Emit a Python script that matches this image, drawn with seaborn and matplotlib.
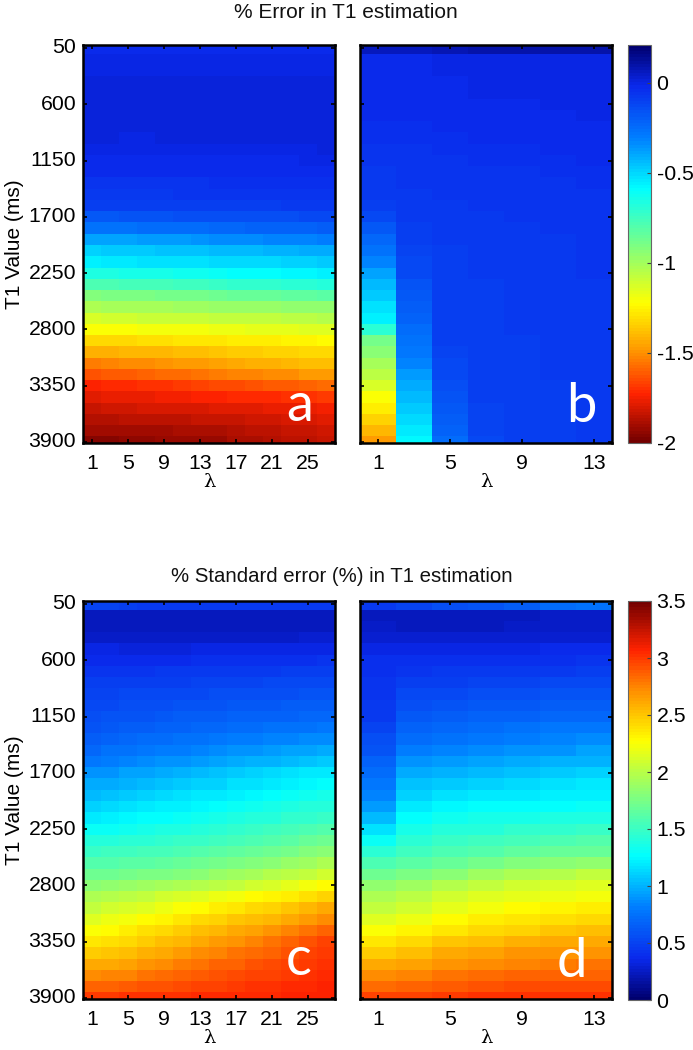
import numpy as np
import pandas as pd
import matplotlib
matplotlib.use('Agg')
import matplotlib.pyplot as plt
from matplotlib.colors import LinearSegmentedColormap
import seaborn as sns

plt.rcParams['font.family'] = ['Liberation Sans', 'DejaVu Sans']

t1_vals = [50, 160, 270, 380, 490, 600, 710, 820, 930, 1040, 1150, 1260, 1370, 1480, 1590, 1700, 1810, 1920,
           2030, 2140, 2250, 2360, 2470, 2580, 2690, 2800, 2910, 3020, 3130, 3240, 3350, 3460, 3570, 3680, 3790, 3900]
lam_long = [1, 3, 5, 7, 9, 11, 13, 15, 17, 19, 21, 23, 25, 27]
lam_short = [1, 3, 5, 7, 9, 11, 13]

err_a = [
 [-.03,-.03,-.03,-.03,-.03,-.03,-.03,-.03,-.03,-.03,-.02,-.02,-.02,-.02],
 [-.01,-.01,-.01,-.01,-.01,-.01,-.01,-.01,-.01,-.01,-.01,.0,.0,.0],
 [.0,.0,.0,.0,.0,.0,.0,.0,.0,.0,.0,.0,.0,.0],
 [.01,.01,.01,.01,.01,.01,.01,.01,.01,.01,.01,.01,.01,.01],
 [.02,.02,.02,.02,.02,.02,.02,.02,.02,.02,.02,.02,.02,.02],
 [.02,.02,.02,.02,.02,.02,.02,.02,.02,.02,.02,.02,.02,.02],
 [.02,.02,.02,.02,.02,.02,.02,.02,.02,.02,.02,.02,.02,.02],
 [.01,.01,.01,.01,.01,.01,.01,.01,.01,.01,.01,.01,.01,.01],
 [.01,.01,.0,.0,.01,.01,.01,.01,.01,.01,.01,.01,.01,.01],
 [.0,.0,-.01,-.01,-.01,.0,.0,.0,.0,.0,.0,.0,.0,.01],
 [-.02,-.02,-.02,-.02,-.02,-.02,-.02,-.02,-.02,-.02,-.02,-.02,-.01,-.01],
 [-.03,-.03,-.03,-.03,-.03,-.03,-.03,-.03,-.03,-.03,-.03,-.03,-.03,-.03],
 [-.05,-.05,-.05,-.05,-.05,-.05,-.05,-.04,-.04,-.04,-.04,-.04,-.04,-.04],
 [-.07,-.07,-.07,-.07,-.07,-.06,-.06,-.06,-.06,-.06,-.06,-.06,-.06,-.05],
 [-.10,-.10,-.10,-.10,-.10,-.09,-.09,-.09,-.09,-.09,-.09,-.08,-.08,-.08],
 [-.17,-.17,-.16,-.16,-.16,-.15,-.15,-.15,-.15,-.14,-.14,-.14,-.13,-.13],
 [-.27,-.26,-.26,-.25,-.25,-.24,-.24,-.23,-.23,-.22,-.22,-.21,-.21,-.20],
 [-.39,-.38,-.38,-.37,-.36,-.36,-.35,-.34,-.34,-.33,-.32,-.32,-.31,-.30],
 [-.49,-.48,-.48,-.47,-.46,-.46,-.45,-.44,-.44,-.43,-.42,-.42,-.41,-.40],
 [-.55,-.54,-.54,-.53,-.53,-.52,-.52,-.51,-.51,-.50,-.50,-.49,-.49,-.48],
 [-.67,-.66,-.65,-.65,-.64,-.63,-.62,-.61,-.60,-.60,-.59,-.58,-.57,-.56],
 [-.79,-.78,-.77,-.76,-.76,-.75,-.74,-.73,-.72,-.72,-.71,-.70,-.69,-.68],
 [-.92,-.91,-.90,-.90,-.89,-.88,-.88,-.87,-.86,-.85,-.85,-.84,-.83,-.82],
 [-1.02,-1.01,-1.01,-1.00,-1.00,-.99,-.99,-.98,-.98,-.97,-.97,-.96,-.96,-.95],
 [-1.12,-1.11,-1.11,-1.10,-1.10,-1.09,-1.09,-1.08,-1.08,-1.07,-1.07,-1.06,-1.06,-1.05],
 [-1.22,-1.21,-1.21,-1.20,-1.20,-1.19,-1.19,-1.18,-1.18,-1.17,-1.16,-1.16,-1.15,-1.14],
 [-1.32,-1.31,-1.31,-1.30,-1.30,-1.29,-1.28,-1.28,-1.27,-1.27,-1.26,-1.25,-1.25,-1.24],
 [-1.43,-1.42,-1.41,-1.40,-1.40,-1.39,-1.38,-1.37,-1.36,-1.35,-1.34,-1.33,-1.32,-1.31],
 [-1.54,-1.53,-1.51,-1.50,-1.49,-1.48,-1.47,-1.45,-1.44,-1.43,-1.42,-1.41,-1.39,-1.38],
 [-1.63,-1.62,-1.61,-1.59,-1.58,-1.57,-1.56,-1.55,-1.53,-1.52,-1.51,-1.50,-1.48,-1.47],
 [-1.73,-1.72,-1.71,-1.70,-1.69,-1.68,-1.67,-1.65,-1.64,-1.63,-1.62,-1.61,-1.59,-1.58],
 [-1.78,-1.77,-1.77,-1.76,-1.75,-1.75,-1.74,-1.73,-1.72,-1.72,-1.71,-1.70,-1.69,-1.68],
 [-1.83,-1.82,-1.82,-1.81,-1.81,-1.80,-1.80,-1.79,-1.78,-1.78,-1.77,-1.77,-1.76,-1.75],
 [-1.87,-1.87,-1.86,-1.86,-1.85,-1.85,-1.84,-1.84,-1.83,-1.82,-1.82,-1.81,-1.80,-1.79],
 [-1.91,-1.91,-1.90,-1.90,-1.90,-1.89,-1.89,-1.88,-1.87,-1.86,-1.85,-1.84,-1.83,-1.82],
 [-1.95,-1.95,-1.94,-1.94,-1.93,-1.93,-1.92,-1.92,-1.89,-1.88,-1.87,-1.86,-1.85,-1.84],
]

err_b = [
 [.06,.07,.08,.09,.10,.10,.10],
 [-.03,-.02,-.01,.0,.0,.0,.0],
 [-.03,-.02,-.01,-.01,.0,.0,.0],
 [-.03,-.03,-.02,-.01,-.01,.0,.0],
 [-.03,-.03,-.02,-.01,-.01,-.01,.0],
 [-.03,-.03,-.03,-.02,-.02,-.01,-.01],
 [-.03,-.03,-.03,-.03,-.02,-.02,-.01],
 [-.04,-.04,-.03,-.03,-.03,-.02,-.02],
 [-.04,-.04,-.04,-.03,-.03,-.03,-.03],
 [-.05,-.05,-.04,-.04,-.04,-.03,-.03],
 [-.06,-.05,-.05,-.04,-.04,-.04,-.03],
 [-.07,-.06,-.05,-.05,-.05,-.04,-.04],
 [-.08,-.06,-.06,-.05,-.05,-.05,-.04],
 [-.08,-.07,-.06,-.06,-.05,-.05,-.05],
 [-.10,-.07,-.07,-.06,-.06,-.05,-.05],
 [-.12,-.08,-.07,-.07,-.06,-.06,-.05],
 [-.17,-.09,-.08,-.07,-.07,-.06,-.06],
 [-.23,-.10,-.08,-.08,-.07,-.07,-.06],
 [-.27,-.11,-.09,-.08,-.07,-.07,-.06],
 [-.32,-.12,-.09,-.08,-.08,-.07,-.06],
 [-.39,-.13,-.09,-.08,-.08,-.07,-.06],
 [-.44,-.16,-.09,-.09,-.08,-.07,-.07],
 [-.48,-.18,-.09,-.09,-.08,-.08,-.07],
 [-.52,-.20,-.10,-.09,-.08,-.08,-.07],
 [-.56,-.22,-.10,-.09,-.08,-.08,-.07],
 [-.70,-.24,-.10,-.09,-.08,-.08,-.07],
 [-.88,-.27,-.10,-.09,-.09,-.08,-.07],
 [-.94,-.29,-.11,-.09,-.09,-.08,-.07],
 [-1.00,-.32,-.12,-.10,-.09,-.08,-.08],
 [-1.06,-.36,-.13,-.10,-.09,-.08,-.08],
 [-1.12,-.40,-.14,-.10,-.09,-.09,-.08],
 [-1.22,-.44,-.16,-.10,-.09,-.09,-.08],
 [-1.26,-.48,-.18,-.11,-.10,-.09,-.08],
 [-1.33,-.51,-.20,-.11,-.10,-.09,-.08],
 [-1.40,-.54,-.22,-.11,-.10,-.09,-.08],
 [-1.47,-.57,-.24,-.12,-.10,-.09,-.08],
]

std_c = [
 [.50,.50,.48,.46,.46,.46,.46,.46,.46,.46,.46,.46,.46,.46],
 [.22,.22,.22,.22,.22,.22,.22,.22,.22,.22,.22,.22,.22,.22],
 [.22,.22,.23,.23,.23,.23,.23,.23,.23,.23,.23,.23,.23,.24],
 [.27,.27,.26,.26,.26,.26,.26,.26,.26,.27,.27,.27,.28,.28],
 [.33,.33,.32,.32,.32,.32,.33,.33,.33,.33,.34,.34,.35,.35],
 [.38,.38,.38,.38,.38,.38,.39,.39,.39,.40,.40,.41,.41,.42],
 [.43,.43,.43,.43,.44,.44,.45,.45,.45,.46,.46,.47,.47,.48],
 [.47,.47,.48,.48,.49,.49,.50,.50,.51,.51,.52,.52,.53,.53],
 [.50,.51,.52,.52,.53,.54,.54,.55,.56,.56,.57,.57,.58,.59],
 [.53,.54,.55,.56,.57,.58,.59,.60,.61,.62,.62,.63,.64,.65],
 [.56,.58,.59,.60,.62,.63,.64,.65,.66,.67,.68,.68,.69,.70],
 [.60,.62,.64,.65,.67,.68,.69,.70,.72,.73,.74,.75,.76,.78],
 [.65,.68,.70,.72,.73,.75,.76,.78,.80,.81,.83,.84,.85,.87],
 [.71,.74,.76,.78,.80,.82,.84,.86,.88,.90,.92,.93,.95,.97],
 [.78,.81,.83,.85,.88,.90,.92,.94,.97,.99,1.01,1.03,1.05,1.08],
 [.88,.90,.93,.95,.98,1.00,1.03,1.05,1.08,1.10,1.13,1.15,1.18,1.20],
 [.96,.98,1.01,1.03,1.06,1.08,1.11,1.12,1.15,1.17,1.20,1.22,1.25,1.27],
 [1.03,1.06,1.09,1.11,1.14,1.16,1.18,1.20,1.23,1.25,1.27,1.29,1.32,1.35],
 [1.12,1.14,1.16,1.18,1.21,1.23,1.25,1.27,1.30,1.32,1.34,1.37,1.40,1.42],
 [1.20,1.22,1.24,1.26,1.28,1.30,1.32,1.35,1.37,1.40,1.42,1.45,1.47,1.50],
 [1.30,1.31,1.33,1.35,1.37,1.39,1.41,1.44,1.46,1.49,1.52,1.54,1.57,1.60],
 [1.40,1.41,1.43,1.44,1.46,1.48,1.50,1.53,1.55,1.58,1.61,1.64,1.67,1.70],
 [1.50,1.51,1.52,1.54,1.55,1.57,1.59,1.62,1.65,1.68,1.71,1.74,1.78,1.82],
 [1.60,1.61,1.62,1.64,1.66,1.68,1.70,1.73,1.76,1.79,1.83,1.87,1.91,1.95],
 [1.70,1.71,1.73,1.75,1.77,1.80,1.83,1.86,1.89,1.93,1.97,2.01,2.05,2.10],
 [1.83,1.84,1.86,1.89,1.92,1.95,1.98,2.02,2.05,2.09,2.13,2.18,2.23,2.28],
 [1.95,1.97,2.00,2.04,2.08,2.12,2.16,2.20,2.23,2.27,2.31,2.35,2.40,2.45],
 [2.05,2.08,2.12,2.16,2.21,2.25,2.29,2.33,2.37,2.41,2.45,2.50,2.55,2.60],
 [2.15,2.19,2.23,2.28,2.32,2.37,2.41,2.45,2.49,2.53,2.57,2.62,2.67,2.72],
 [2.25,2.29,2.33,2.38,2.43,2.47,2.52,2.56,2.60,2.64,2.69,2.74,2.80,2.85],
 [2.36,2.39,2.43,2.48,2.52,2.57,2.62,2.66,2.70,2.75,2.80,2.85,2.90,2.96],
 [2.48,2.50,2.54,2.58,2.62,2.67,2.71,2.75,2.79,2.83,2.87,2.91,2.96,3.00],
 [2.60,2.62,2.65,2.69,2.73,2.77,2.81,2.85,2.87,2.90,2.93,2.96,3.00,3.03],
 [2.72,2.74,2.76,2.79,2.82,2.85,2.89,2.92,2.94,2.96,2.98,3.00,3.03,3.05],
 [2.86,2.87,2.88,2.90,2.92,2.94,2.96,2.98,3.00,3.01,3.03,3.04,3.06,3.07],
 [3.00,3.00,3.01,3.02,3.02,3.03,3.04,3.05,3.05,3.06,3.06,3.07,3.07,3.08],
]

std_d = [
 [.46,.50,.55,.60,.65,.72,.75],
 [.22,.22,.22,.23,.24,.25,.26],
 [.25,.24,.24,.24,.25,.26,.26],
 [.29,.28,.28,.28,.29,.30,.30],
 [.34,.34,.34,.35,.35,.36,.37],
 [.39,.39,.39,.40,.40,.41,.42],
 [.41,.43,.44,.45,.46,.46,.47],
 [.42,.47,.49,.50,.51,.52,.53],
 [.42,.52,.54,.55,.56,.58,.59],
 [.44,.57,.59,.61,.62,.64,.65],
 [.46,.61,.64,.66,.68,.69,.71],
 [.50,.66,.70,.72,.75,.77,.78],
 [.55,.72,.76,.79,.81,.83,.85],
 [.60,.80,.83,.86,.88,.90,.93],
 [.66,.88,.92,.95,.97,.99,1.01],
 [.72,.96,1.00,1.03,1.06,1.08,1.10],
 [.78,1.04,1.08,1.11,1.14,1.16,1.18],
 [.84,1.12,1.16,1.19,1.20,1.21,1.22],
 [.92,1.20,1.24,1.26,1.27,1.28,1.29],
 [1.02,1.28,1.32,1.34,1.36,1.38,1.39],
 [1.16,1.36,1.40,1.42,1.45,1.47,1.48],
 [1.30,1.43,1.48,1.51,1.55,1.57,1.59],
 [1.44,1.51,1.57,1.61,1.65,1.67,1.69],
 [1.56,1.62,1.68,1.73,1.78,1.81,1.84],
 [1.70,1.75,1.83,1.90,1.95,1.99,2.03],
 [1.85,1.90,1.98,2.05,2.10,2.12,2.14],
 [1.95,2.00,2.08,2.14,2.18,2.21,2.24],
 [2.05,2.10,2.18,2.24,2.28,2.31,2.33],
 [2.15,2.20,2.28,2.33,2.37,2.40,2.43],
 [2.25,2.30,2.37,2.42,2.46,2.49,2.52],
 [2.37,2.42,2.49,2.54,2.58,2.60,2.62],
 [2.48,2.53,2.60,2.64,2.68,2.69,2.70],
 [2.60,2.64,2.69,2.73,2.76,2.78,2.79],
 [2.72,2.75,2.79,2.82,2.85,2.86,2.87],
 [2.84,2.86,2.89,2.91,2.93,2.94,2.95],
 [2.96,2.98,3.00,3.01,3.02,3.03,3.03],
]

# jet as it looks in the reference, blues and reds a bit washed
jet_pos = [0, .10, .23, .36, .5, .65, .77, .88, 1]
jet_rgb = [(0, 0, 110), (10, 40, 235), (0, 125, 255), (0, 255, 255), (120, 255, 135),
           (255, 255, 0), (255, 150, 0), (255, 35, 0), (115, 0, 0)]
jet_like = LinearSegmentedColormap.from_list(
    'jet_like', [(p, tuple(c / 255 for c in rgb)) for p, rgb in zip(jet_pos, jet_rgb)], N=128)
jet_like_r = jet_like.reversed()

W, H = 693.0, 1050.0
px_row = 11.26


def panel(x0, x1, y0, y1, values, lams, cmap, vmin, vmax, show_y, xticks):
    ax = fig.add_axes([x0 / W, 1 - y1 / H, (x1 - x0) / W, (y1 - y0) / H])
    df = pd.DataFrame(values, index=t1_vals, columns=lams)
    sns.heatmap(df, ax=ax, cmap=cmap, vmin=vmin, vmax=vmax, cbar=False, rasterized=True)
    # the original image is cut a little inside the first and last rows
    ax.set_ylim(35.59, 0.5 - (48 - 45) / px_row)
    ax.set_xticks([lams.index(v) + 0.5 for v in xticks])
    ax.set_xticklabels(xticks, rotation=0)
    ax.set_yticks([t1_vals.index(v) + 0.5 for v in t1_ticks])
    ax.set_yticklabels(t1_ticks if show_y else [], rotation=0)
    ax.tick_params(axis='both', direction='in', length=3, width=1.2, labelsize=15.3,
                   top=True, right=True, left=True, bottom=True, color='black')
    ax.tick_params(axis='x', pad=8)
    ax.tick_params(axis='y', pad=5)
    ax.set_xlabel('λ', fontsize=14, labelpad=0, family=['DejaVu Serif'])
    if show_y:
        ax.set_ylabel('T1 Value (ms)', fontsize=15, labelpad=3)
    else:
        ax.set_ylabel('')
    for s in ax.spines.values():
        s.set_visible(True)
        s.set_linewidth(1.8)
        s.set_color('black')
    return ax


def colorbar(y0, y1, cmap, vmin, vmax, ticks, labels):
    cax = fig.add_axes([628 / W, 1 - y1 / H, 23 / W, (y1 - y0) / H])
    sm = plt.cm.ScalarMappable(cmap=cmap, norm=plt.Normalize(vmin, vmax))
    cb = fig.colorbar(sm, cax=cax)
    cb.set_ticks(ticks)
    cb.set_ticklabels(labels)
    cb.ax.tick_params(direction='in', length=3, width=0.8, labelsize=15.3, pad=4, color='#444444')
    cb.outline.set_linewidth(0.8)
    cb.outline.set_edgecolor('#666666')


t1_ticks = [50, 600, 1150, 1700, 2250, 2800, 3350, 3900]
long_ticks = [1, 5, 9, 13, 17, 21, 25]
short_ticks = [1, 5, 9, 13]

fig = plt.figure(figsize=(W / 100, H / 100), dpi=100)

err_lim = (-2, 0.21)
std_lim = (0, 3.5)
panel(83, 335, 45, 443, err_a, lam_long, jet_like_r, *err_lim, True, long_ticks)
panel(360, 612, 45, 443, err_b, lam_short, jet_like_r, *err_lim, False, short_ticks)
panel(83, 335, 601, 999, std_c, lam_long, jet_like, *std_lim, True, long_ticks)
panel(360, 612, 601, 999, std_d, lam_short, jet_like, *std_lim, False, short_ticks)

colorbar(45, 443, jet_like_r, *err_lim, [0, -0.5, -1, -1.5, -2], ['0', '-0.5', '-1', '-1.5', '-2'])
colorbar(601, 1000, jet_like, *std_lim, [0, 0.5, 1, 1.5, 2, 2.5, 3, 3.5], ['0', '0.5', '1', '1.5', '2', '2.5', '3', '3.5'])

for letter, lx, ly in [('a', 300, 421), ('b', 581, 422), ('c', 299, 975), ('d', 572, 977)]:
    fig.text(lx / W, 1 - ly / H, letter, color='white', fontsize=39, family='Lato', ha='center', va='baseline')

fig.text(346 / W, 1 - 13 / H, '% Error in T1 estimation', fontsize=15, ha='center', va='center', color='#111111')
fig.text(342 / W, 1 - 576 / H, '% Standard error (%) in T1 estimation', fontsize=14.7, ha='center', va='center', color='#111111')

fig.savefig('out.png', dpi=100)
